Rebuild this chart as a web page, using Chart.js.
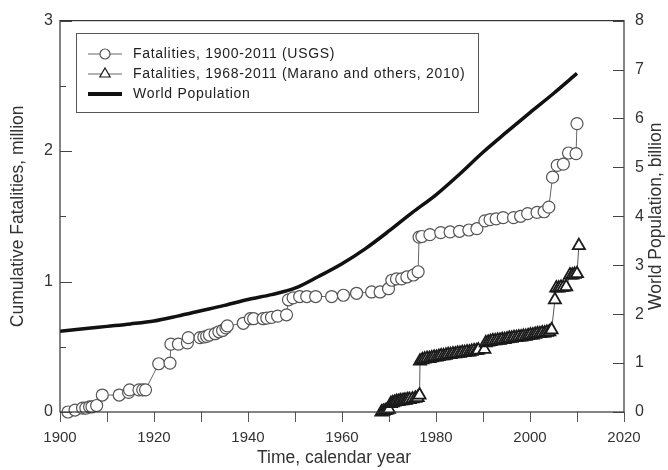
<!DOCTYPE html>
<html>
<head>
<meta charset="utf-8">
<script src="https://cdn.jsdelivr.net/npm/chart.js@4.4.1/dist/chart.umd.min.js"></script>
<style>
  html, body { margin: 0; padding: 0; background: #fff; }
  #wrap { width: 668px; height: 470px; }
</style>
</head>
<body>
<div id="wrap"><canvas id="chart"></canvas></div>
<script>
// USGS cumulative fatalities (million)
const usgsYears = [1901.7, 1903.2, 1904.8, 1905.5, 1906.3, 1906.8, 1907.8, 1909.0, 1912.6, 1914.6,
  1914.8, 1916.8, 1917.6, 1918.2, 1921.0, 1923.4, 1923.6, 1925.2, 1927.1, 1927.3,
  1929.8, 1930.6, 1931.2, 1931.8, 1933.0, 1933.8, 1934.6, 1935.3, 1935.6, 1939.0,
  1940.5, 1941.2, 1943.2, 1944.0, 1945.0, 1946.3, 1948.2, 1948.6, 1949.6, 1951.0,
  1952.5, 1954.4, 1957.8, 1960.3, 1963.1, 1966.3, 1968.1, 1969.9, 1970.6, 1971.6,
  1972.7, 1973.8, 1975.2, 1976.2, 1976.4, 1977.0, 1978.7, 1981.0, 1983.0, 1985.0,
  1987.0, 1988.7, 1990.4, 1991.5, 1992.8, 1994.3, 1996.5, 1998.0, 1999.5, 2001.5,
  2003.0, 2004.0, 2004.8, 2005.8, 2007.1, 2008.2, 2009.8, 2010.0];
const usgsFatalities = [0.00, 0.015, 0.03, 0.03, 0.04, 0.04, 0.05, 0.13, 0.13, 0.15,
  0.17, 0.17, 0.17, 0.17, 0.37, 0.375, 0.52, 0.52, 0.53, 0.57,
  0.57, 0.575, 0.58, 0.59, 0.60, 0.615, 0.625, 0.645, 0.66, 0.68,
  0.715, 0.715, 0.715, 0.72, 0.725, 0.735, 0.745, 0.86, 0.875, 0.885,
  0.885, 0.885, 0.885, 0.895, 0.91, 0.92, 0.92, 0.945, 1.01, 1.02,
  1.02, 1.035, 1.05, 1.075, 1.34, 1.345, 1.36, 1.375, 1.38, 1.385,
  1.395, 1.405, 1.465, 1.475, 1.48, 1.49, 1.49, 1.50, 1.52, 1.53,
  1.535, 1.57, 1.80, 1.89, 1.90, 1.985, 1.98, 2.21];

// Marano and others (2010) cumulative fatalities (million)
const maranoYears = [1968.4, 1968.8, 1969.2, 1969.6, 1970.0, 1970.4, 1970.8, 1971.2, 1971.6, 1972.0,
  1972.4, 1972.8, 1973.2, 1973.6, 1974.0, 1974.4, 1975.0, 1975.6, 1976.1, 1976.5,
  1976.6, 1977.1, 1977.6, 1978.1, 1978.6, 1979.1, 1979.6, 1980.1, 1980.6, 1981.1,
  1981.6, 1982.1, 1982.6, 1983.1, 1983.6, 1984.1, 1984.6, 1985.1, 1985.6, 1986.1,
  1986.6, 1987.1, 1987.6, 1988.1, 1988.6, 1989.0, 1990.3, 1990.6, 1991.1, 1991.6,
  1992.1, 1992.6, 1993.1, 1993.6, 1994.1, 1994.6, 1995.1, 1995.6, 1996.1, 1996.6,
  1997.1, 1997.6, 1998.1, 1998.6, 1999.1, 1999.6, 2000.1, 2000.6, 2001.1, 2001.6,
  2002.1, 2002.6, 2003.1, 2003.6, 2004.1, 2004.6, 2005.3, 2005.6, 2006.1, 2006.6,
  2007.1, 2007.7, 2008.5, 2009.0, 2009.5, 2010.0, 2010.4];
const maranoFatalities = [0.000, 0.005, 0.010, 0.015, 0.020, 0.065, 0.070, 0.075, 0.080, 0.080,
  0.085, 0.085, 0.090, 0.090, 0.095, 0.095, 0.100, 0.105, 0.110, 0.130,
  0.390, 0.400, 0.405, 0.410, 0.410, 0.415, 0.420, 0.420, 0.425, 0.430,
  0.430, 0.435, 0.440, 0.440, 0.445, 0.445, 0.450, 0.450, 0.455, 0.455,
  0.460, 0.460, 0.465, 0.470, 0.470, 0.475, 0.480, 0.530, 0.535, 0.540,
  0.545, 0.545, 0.550, 0.550, 0.555, 0.555, 0.560, 0.565, 0.565, 0.570,
  0.570, 0.575, 0.575, 0.580, 0.580, 0.585, 0.590, 0.590, 0.595, 0.600,
  0.600, 0.605, 0.605, 0.610, 0.615, 0.630, 0.860, 0.950, 0.950, 0.955,
  0.955, 0.960, 1.050, 1.050, 1.055, 1.060, 1.275];

// World population (billion)
const popYears = [1900, 1905, 1910, 1915, 1920, 1925, 1930, 1935, 1940, 1945, 1950, 1955,
  1960, 1965, 1970, 1975, 1980, 1985, 1990, 1995, 2000, 2005, 2010];
const population = [1.65, 1.70, 1.75, 1.80, 1.86, 1.96, 2.07, 2.18, 2.30, 2.40, 2.53, 2.77,
  3.03, 3.34, 3.70, 4.08, 4.44, 4.86, 5.31, 5.72, 6.12, 6.51, 6.92];

const xTicks = [1900, 1920, 1940, 1960, 1980, 2000, 2020];

const FONT = '"Liberation Sans", Arial, sans-serif';
const TXT = '#333';
const pts = (xs, ys) => xs.map((x, i) => ({ x: x, y: ys[i] }));

const frame = {
  id: 'frame',
  afterDraw(chart) {
    const { ctx, chartArea: a, scales } = chart;
    ctx.save();
    ctx.strokeStyle = '#333';
    ctx.lineWidth = 1.2;
    ctx.strokeRect(a.left, a.top, a.right - a.left, a.bottom - a.top);

    // inward ticks
    ctx.strokeStyle = '#444';
    ctx.lineWidth = 1;
    ctx.beginPath();
    scales.y.ticks.forEach(t => {
      const py = Math.round(scales.y.getPixelForValue(t.value)) + 0.5;
      const len = Number.isInteger(t.value) ? 12 : 6;
      ctx.moveTo(a.left, py); ctx.lineTo(a.left + len, py);
    });
    scales.y1.ticks.forEach(t => {
      const py = Math.round(scales.y1.getPixelForValue(t.value)) + 0.5;
      ctx.moveTo(a.right, py); ctx.lineTo(a.right - 11, py);
    });
    ctx.stroke();

    // axis titles
    ctx.fillStyle = TXT;
    ctx.font = '17.5px ' + FONT;
    ctx.textAlign = 'center';
    ctx.textBaseline = 'middle';
    const midY = (a.top + a.bottom) / 2;
    ctx.save();
    ctx.translate(18, midY); ctx.rotate(-Math.PI / 2);
    ctx.fillText('Cumulative Fatalities, million', 0, 0);
    ctx.restore();
    ctx.save();
    ctx.translate(656, midY); ctx.rotate(-Math.PI / 2);
    ctx.fillText('World Population, billion', 0, 0);
    ctx.restore();
    ctx.fillText('Time, calendar year', 334, 458);

    // legend
    const lx = 76.5, ly = 33.5;
    ctx.fillStyle = '#fff';
    ctx.fillRect(lx, ly, 402, 79);
    ctx.strokeStyle = '#555';
    ctx.lineWidth = 1;
    ctx.strokeRect(lx, ly, 402, 79);
    const rows = [54, 74, 94];
    const ds = chart.data.datasets;
    ctx.font = '14px ' + FONT;
    ctx.letterSpacing = '0.7px';
    ctx.textAlign = 'left';
    rows.forEach((ry, i) => {
      const d = ds[i];
      ctx.beginPath();
      ctx.strokeStyle = i === 2 ? '#111' : '#666';
      ctx.lineWidth = i === 2 ? 4 : 1;
      ctx.moveTo(88, ry); ctx.lineTo(122, ry);
      ctx.stroke();
      if (i < 2) {
        ctx.fillStyle = '#fff';
        ctx.strokeStyle = d.pointBorderColor;
        ctx.lineWidth = 1.2;
        Chart.helpers.drawPoint(ctx, {
          pointStyle: d.pointStyle, radius: i === 0 ? 5 : 6, rotation: 0, borderWidth: 1.2
        }, 105, ry);
      }
      ctx.fillStyle = '#222';
      ctx.fillText(d.label, 133, ry + 0.5);
    });
    ctx.restore();
  }
};

new Chart(document.getElementById('chart').getContext('2d'), {
  type: 'scatter',
  data: {
    datasets: [{
      label: 'Fatalities, 1900-2011 (USGS)',
      data: pts(usgsYears, usgsFatalities),
      showLine: true,
      borderColor: '#666',
      borderWidth: 1,
      pointStyle: 'circle',
      pointRadius: 6,
      pointBackgroundColor: '#fff',
      pointBorderColor: '#555',
      pointBorderWidth: 1.2,
      yAxisID: 'y',
      clip: false
    }, {
      label: 'Fatalities, 1968-2011 (Marano and others, 2010)',
      data: pts(maranoYears, maranoFatalities),
      showLine: true,
      borderColor: '#555',
      borderWidth: 1,
      pointStyle: 'triangle',
      pointRadius: 7,
      pointBackgroundColor: '#fff',
      pointBorderColor: '#1a1a1a',
      pointBorderWidth: 1.8,
      yAxisID: 'y',
      clip: false
    }, {
      label: 'World Population',
      data: pts(popYears, population),
      showLine: true,
      borderColor: '#111',
      borderWidth: 3.5,
      pointRadius: 0,
      cubicInterpolationMode: 'monotone',
      yAxisID: 'y1'
    }]
  },
  options: {
    responsive: true,
    maintainAspectRatio: false,
    animation: false,
    layout: { padding: { top: 15, left: 0, right: 0, bottom: 0 } },
    plugins: { legend: { display: false }, tooltip: { enabled: false } },
    scales: {
      x: {
        type: 'linear', min: 1900, max: 2020,
        ticks: {
          stepSize: 10, autoSkip: false, maxRotation: 0, padding: 7,
          color: TXT, font: { size: 15, family: FONT },
          callback: v => xTicks.includes(v) ? String(v) : ''
        },
        grid: { drawOnChartArea: false, drawTicks: true, tickLength: 10, color: '#555' },
        border: { display: false },
        afterFit: s => { s.height = 58; }
      },
      y: {
        position: 'left', min: 0, max: 3,
        ticks: {
          stepSize: 0.5, padding: 7, color: TXT, font: { size: 16, family: FONT },
          callback: v => Number.isInteger(v) ? String(v) : ''
        },
        grid: { display: false, drawTicks: false },
        border: { display: false },
        afterFit: s => { s.width = 60; }
      },
      y1: {
        position: 'right', min: 0, max: 8,
        ticks: { stepSize: 1, padding: 11, color: TXT, font: { size: 16, family: FONT } },
        grid: { display: false, drawTicks: false },
        border: { display: false },
        afterFit: s => { s.width = 44; }
      }
    }
  },
  plugins: [frame]
});
</script>
</body>
</html>
